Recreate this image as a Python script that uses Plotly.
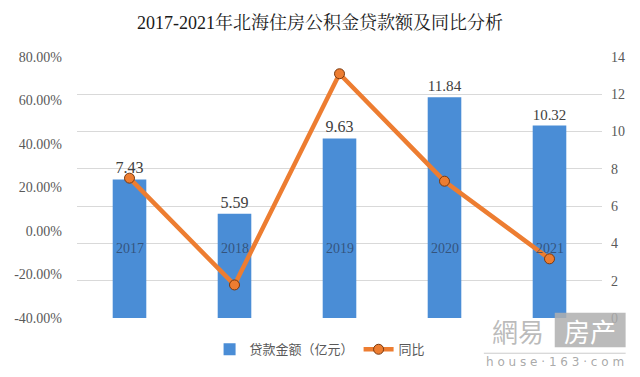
import plotly.graph_objects as go

years = ["2017", "2018", "2019", "2020", "2021"]
loan_amount = [7.43, 5.59, 9.63, 11.84, 10.32]   # 亿元
yoy_pct = [24.3, -24.8, 72.3, 22.9, -12.8]       # %

left_ticks = [-40, -20, 0, 20, 40, 60, 80]
left_tick_text = ["-40.00%", "-20.00%", "0.00%", "20.00%", "40.00%", "60.00%", "80.00%"]
right_ticks = [0, 2, 4, 6, 8, 10, 12, 14]

serif = "Liberation Serif, Noto Serif CJK SC, Noto Sans CJK SC, serif"

fig = go.Figure()
fig.add_trace(go.Bar(
    x=years, y=loan_amount, yaxis="y", name="贷款金额（亿元）",
    marker=dict(color="#4A8DD6", line=dict(width=0)),
    width=0.32,
    text=[f"{v:.2f}" for v in loan_amount], textposition="outside",
    textfont=dict(family=serif, size=16, color="#404040"),
    cliponaxis=False,
))
fig.add_trace(go.Scatter(
    x=years, y=yoy_pct, yaxis="y2", name="同比", mode="lines+markers",
    line=dict(color="#ED7D31", width=4.5),
    marker=dict(size=10, color="#ED7D31", line=dict(color="#7A3A10", width=1)),
))

for i, yr in enumerate(years):
    fig.add_annotation(x=i, y=0, xref="x", yref="y2", text=yr, showarrow=False,
                       yanchor="top", yshift=-8,
                       font=dict(family=serif, size=14, color="rgba(45,65,95,0.75)"))

# watermark
fig.add_shape(type="rect", xref="paper", yref="paper", x0=0.91, x1=1.045, y0=-0.112, y1=0.02,
              fillcolor="rgba(175,175,175,0.85)", line=dict(width=0), layer="above")
fig.add_shape(type="line", xref="paper", yref="paper", x0=0.775, x1=1.045, y0=-0.135, y1=-0.135,
              line=dict(color="rgba(190,190,190,0.8)", width=1), layer="above")
fig.add_annotation(x=0.84, y=-0.046, xref="paper", yref="paper", text="網易",
                   showarrow=False, xanchor="center", yanchor="middle",
                   font=dict(family="Noto Sans CJK TC", size=26, color="rgba(175,175,175,0.85)"))
fig.add_annotation(x=0.978, y=-0.046, xref="paper", yref="paper", text="房产",
                   showarrow=False, xanchor="center", yanchor="middle",
                   font=dict(family="Noto Sans CJK SC", size=26, color="white"))
fig.add_annotation(x=0.91, y=-0.17, xref="paper", yref="paper", text="h o u s e · 1 6 3 · c o m",
                   showarrow=False, xanchor="center", yanchor="middle",
                   font=dict(family="DejaVu Sans", size=12, color="rgba(160,160,160,0.9)"))

fig.update_layout(
    width=640, height=377,
    margin=dict(l=77, r=38, t=57, b=59),
    paper_bgcolor="white", plot_bgcolor="white",
    title=dict(text="2017-2021年北海住房公积金贷款额及同比分析", x=0.5, xanchor="center",
               y=0.94, yanchor="middle",
               font=dict(family=serif, size=18, color="#1a1a1a")),
    xaxis=dict(type="category", range=[-0.5, 4.5], showticklabels=False, showgrid=False,
               zeroline=False, showline=False, ticks=""),
    yaxis=dict(range=[0, 14], tickvals=right_ticks, side="right",
               showgrid=True, gridcolor="#D9D9D9", gridwidth=1, zeroline=False,
               tickfont=dict(family=serif, size=14, color="#595959"), ticklabelstandoff=8),
    yaxis2=dict(range=[-40, 80], tickvals=left_ticks, ticktext=left_tick_text,
                overlaying="y", side="left", showgrid=False, zeroline=False,
                tickfont=dict(family=serif, size=14, color="#595959"), ticklabelstandoff=14),
    legend=dict(orientation="h", x=0.463, xanchor="center", y=-0.12, yanchor="middle",
                font=dict(family="Noto Sans CJK SC", size=13, color="#595959"),
                traceorder="normal"),
    showlegend=True,
)

fig.write_html("out.html", config={"displayModeBar": False},
               post_script="document.body.style.margin='0';")
